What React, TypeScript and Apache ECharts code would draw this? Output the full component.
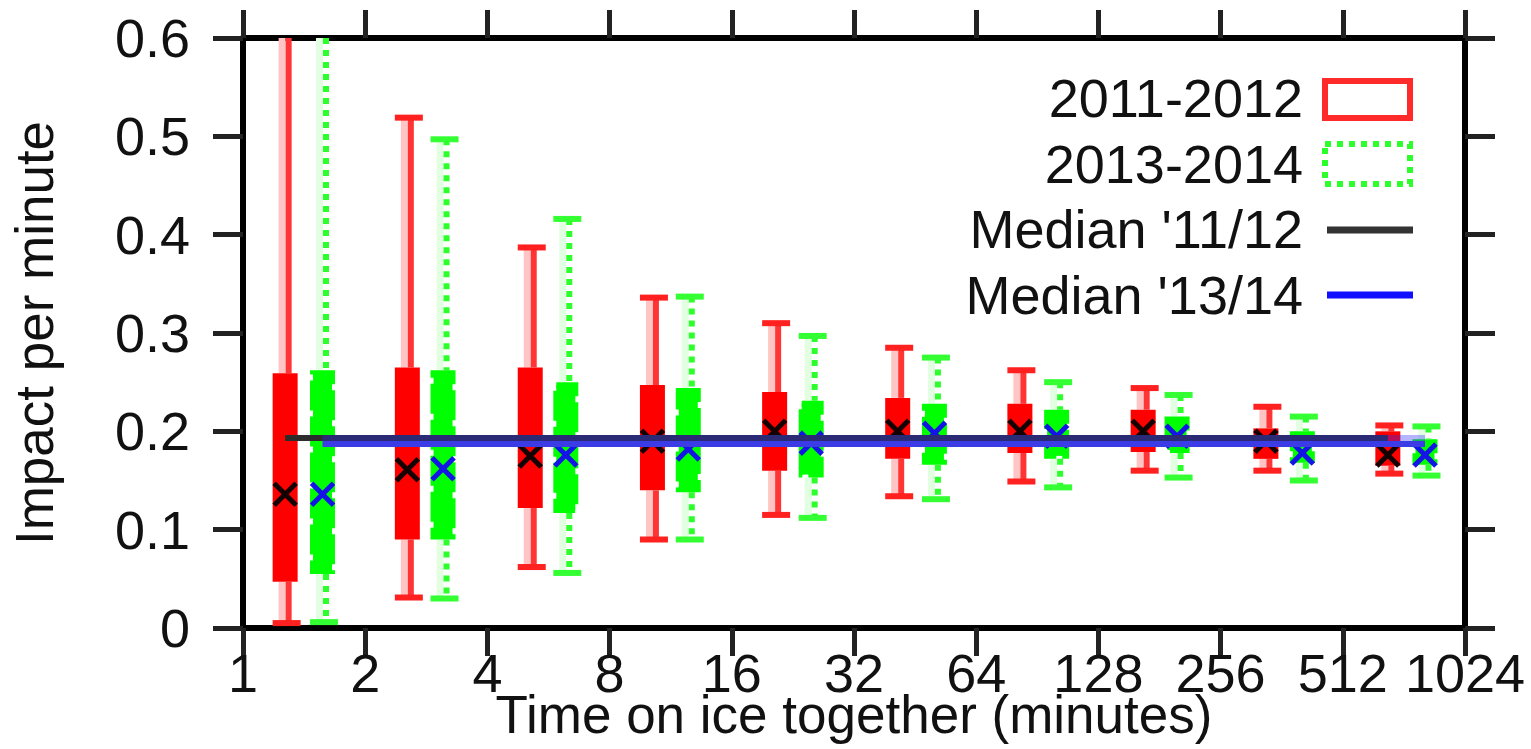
import React, { useEffect, useRef } from "react";
import * as echarts from "echarts";

// ---- data ----
const xTickLabels = ["1", "2", "4", "8", "16", "32", "64", "128", "256", "512", "1024"];
const legendLabels = ["2011-2012", "2013-2014", "Median '11/12", "Median '13/14"];

// 2011-2012
const redX = [1.27, 2.54, 5.1, 10.2, 20.4, 41, 82, 165, 331, 661];
const redWhiskerLow = [0.005, 0.031, 0.062, 0.09, 0.115, 0.134, 0.149, 0.16, 0.16, 0.157];
const redBoxLow = [0.047, 0.09, 0.122, 0.14, 0.16, 0.172, 0.178, 0.179, 0.172, 0.165];
const redBoxHigh = [0.259, 0.265, 0.265, 0.247, 0.24, 0.234, 0.228, 0.222, 0.203, 0.2];
const redWhiskerHigh = [0.65, 0.519, 0.387, 0.336, 0.31, 0.285, 0.262, 0.244, 0.225, 0.206];
const redMark = [0.136, 0.161, 0.175, 0.19, 0.2, 0.2, 0.2, 0.2, 0.19, 0.176];

// 2013-2014
const greenX = [1.57, 3.11, 6.24, 12.5, 25.1, 50.5, 101, 200, 407, 816];
const greenWhiskerLow = [0.006, 0.03, 0.056, 0.09, 0.112, 0.131, 0.143, 0.153, 0.15, 0.155];
const greenBoxLow = [0.055, 0.09, 0.117, 0.138, 0.153, 0.166, 0.172, 0.178, 0.168, 0.166];
const greenBoxHigh = [0.262, 0.262, 0.25, 0.244, 0.231, 0.228, 0.222, 0.215, 0.2, 0.192];
const greenWhiskerHigh = [0.64, 0.497, 0.416, 0.337, 0.297, 0.275, 0.25, 0.237, 0.215, 0.205];
const greenMark = [0.136, 0.162, 0.176, 0.182, 0.188, 0.198, 0.195, 0.195, 0.178, 0.176];

const median1112 = 0.1932;
const median1314 = 0.1871;

const FONT = '"Liberation Sans", Arial, Helvetica, sans-serif';
const TXT = "#111";

function buildData(xs: number[], wl: number[], bl: number[], bh: number[], wh: number[], mk: number[]) {
  return xs.map((x, i) => [Math.log2(x), wl[i], bl[i], bh[i], wh[i], mk[i]]);
}

function makeRender(kind: "red" | "green") {
  return (params: any, api: any) => {
    const xv = api.value(0);
    const pWL = api.coord([xv, api.value(1)]);
    const cx = pWL[0];
    const yWL = pWL[1];
    const yBL = api.coord([xv, api.value(2)])[1];
    const yBH = api.coord([xv, api.value(3)])[1];
    let yWH = api.coord([xv, api.value(4)])[1];
    const yM = api.coord([xv, api.value(5)])[1];
    const top = params.coordSys.y;
    const hasTopCap = yWH >= top;
    if (!hasTopCap) yWH = top;
    const hw = 12.5;
    const isRed = kind === "red";
    const halo = isRed ? "#ffc4c4" : "#e2ffe2";
    const main = isRed ? "#ff3434" : "#2cff2c";
    const dash = isRed ? undefined : [6, 6];
    const children: any[] = [];
    const seg = (y1: number, y2: number, dx: number, stroke: string, w: number, d?: number[]) => ({
      type: "line",
      shape: { x1: cx + dx, y1, x2: cx + dx, y2 },
      style: { stroke, lineWidth: w, lineDash: d },
    });
    children.push(seg(yWH, yBH, -3, halo, 7));
    children.push(seg(yBL, yWL, -3, halo, 7));
    children.push(seg(yWH, yBH, 3.5, main, 6, dash));
    children.push(seg(yBL, yWL, 3.5, main, 6, dash));
    const capColor = isRed ? "#ff2020" : "#33ff33";
    if (hasTopCap) {
      children.push({ type: "rect", shape: { x: cx - hw, y: yWH - 3, width: 28, height: 6 }, style: { fill: capColor } });
    }
    children.push({ type: "rect", shape: { x: cx - hw, y: yWL - 3, width: 28, height: 6 }, style: { fill: capColor } });
    if (isRed) {
      children.push({
        type: "rect",
        shape: { x: cx - hw, y: yBH, width: 2 * hw, height: yBL - yBH },
        style: { fill: "#ff0000" },
      });
    } else {
      children.push({
        type: "rect",
        shape: { x: cx - hw + 3, y: yBH + 3, width: 2 * hw - 6, height: yBL - yBH - 6 },
        style: { fill: "#00ff00", stroke: "#00ff00", lineWidth: 6, lineDash: [30, 6] },
      });
    }
    const mc = isRed ? "#140000" : "#1414e6";
    const s = 11;
    children.push({ type: "line", shape: { x1: cx - s, y1: yM - s, x2: cx + s, y2: yM + s }, style: { stroke: mc, lineWidth: 5 } });
    children.push({ type: "line", shape: { x1: cx - s, y1: yM + s, x2: cx + s, y2: yM - s }, style: { stroke: mc, lineWidth: 5 } });
    return { type: "group", children };
  };
}

function xAxisBase(pos: "bottom" | "top") {
  return {
    type: "value",
    position: pos,
    min: 0,
    max: 10,
    interval: 1,
    axisLine: { show: true, onZero: false, lineStyle: { color: "#000", width: 6 } },
    axisTick: { show: true, inside: false, length: 28, lineStyle: { color: "#222", width: 5 } },
    splitLine: { show: false },
  };
}

function yAxisBase(pos: "left" | "right") {
  return {
    type: "value",
    position: pos,
    min: 0,
    max: 0.6,
    interval: 0.1,
    axisLine: { show: true, onZero: false, lineStyle: { color: "#000", width: 6 } },
    axisTick: { show: true, inside: false, length: 30, lineStyle: { color: "#222", width: 5 } },
    splitLine: { show: false },
  };
}

export default function App() {
  const ref = useRef<HTMLDivElement>(null);
  useEffect(() => {
    if (!ref.current) return;
    const chart = echarts.init(ref.current, null, { renderer: "svg", width: 1531, height: 749 });
    const gx0 = Math.log2(greenX[0]);
    const gx1 = Math.log2(greenX[greenX.length - 1]);
    const rx0 = Math.log2(redX[0]);
    const rx1 = Math.log2(redX[redX.length - 1]);
    const option: any = {
      animation: false,
      backgroundColor: "#fff",
      textStyle: { fontFamily: FONT },
      grid: { left: 243, top: 38, width: 1222, height: 590, containLabel: false, outerBoundsMode: "none" },
      xAxis: [
        {
          ...xAxisBase("bottom"),
          axisLabel: {
            show: true,
            margin: 25,
            fontSize: 54,
            lineHeight: 40,
            color: TXT,
            fontFamily: FONT,
            formatter: (v: number) => xTickLabels[Math.round(v)] ?? "",
          },
          name: "Time on ice together (minutes)",
          nameLocation: "middle",
          nameGap: 66,
          nameMoveOverlap: false,
          nameTextStyle: { fontSize: 53, lineHeight: 40, color: TXT, fontFamily: FONT },
        },
        { ...xAxisBase("top"), axisLabel: { show: false } },
      ],
      yAxis: [
        {
          ...yAxisBase("left"),
          axisLabel: {
            show: true,
            margin: 53,
            fontSize: 54,
            color: TXT,
            fontFamily: FONT,
            formatter: (v: number) => (Math.abs(v) < 1e-9 ? "0" : v.toFixed(1)),
          },
          name: "Impact per minute",
          nameLocation: "middle",
          nameGap: 182,
          nameRotate: 90,
          nameMoveOverlap: false,
          nameTextStyle: { fontSize: 53, color: TXT, fontFamily: FONT },
        },
        { ...yAxisBase("right"), axisLabel: { show: false } },
      ],
      series: [
        {
          type: "custom",
          name: legendLabels[0],
          xAxisIndex: 0,
          yAxisIndex: 0,
          renderItem: makeRender("red"),
          encode: { x: 0, y: [1, 2, 3, 4, 5] },
          data: buildData(redX, redWhiskerLow, redBoxLow, redBoxHigh, redWhiskerHigh, redMark),
          z: 2,
        },
        {
          type: "custom",
          name: legendLabels[1],
          xAxisIndex: 0,
          yAxisIndex: 0,
          renderItem: makeRender("green"),
          encode: { x: 0, y: [1, 2, 3, 4, 5] },
          data: buildData(greenX, greenWhiskerLow, greenBoxLow, greenBoxHigh, greenWhiskerHigh, greenMark),
          z: 2,
        },
        {
          type: "line",
          name: legendLabels[2],
          symbol: "none",
          z: 3,
          lineStyle: { color: "#2c2c2c", width: 6 },
          data: [
            [rx0, median1112],
            [rx1, median1112],
          ],
        },
        {
          type: "line",
          name: legendLabels[3],
          symbol: "none",
          z: 4,
          lineStyle: { color: "#3c3ce6", width: 6 },
          data: [
            [gx0, median1314],
            [gx1, median1314],
          ],
        },
        {
          type: "line",
          symbol: "none",
          z: 5,
          silent: true,
          lineStyle: { color: "rgba(40,40,255,0.35)", width: 6 },
          data: [
            [gx0, median1112],
            [gx1, median1112],
          ],
        },
      ],
      graphic: [
        {
          type: "text",
          style: { text: legendLabels[0], x: 1303, y: 98, align: "right", verticalAlign: "middle", fill: TXT, font: `54px ${FONT}` },
        },
        {
          type: "text",
          style: { text: legendLabels[1], x: 1303, y: 164, align: "right", verticalAlign: "middle", fill: TXT, font: `54px ${FONT}` },
        },
        {
          type: "text",
          style: { text: legendLabels[2], x: 1303, y: 229, align: "right", verticalAlign: "middle", fill: TXT, font: `54px ${FONT}` },
        },
        {
          type: "text",
          style: { text: legendLabels[3], x: 1303, y: 295, align: "right", verticalAlign: "middle", fill: TXT, font: `54px ${FONT}` },
        },
        {
          type: "rect",
          shape: { x: 1325, y: 81, width: 85, height: 37 },
          style: { fill: "none", stroke: "#ff2a2a", lineWidth: 6 },
        },
        {
          type: "rect",
          shape: { x: 1325, y: 144, width: 85, height: 40 },
          style: { fill: "none", stroke: "#2cff2c", lineWidth: 6, lineDash: [6, 6] },
        },
        {
          type: "line",
          shape: { x1: 1327, y1: 230, x2: 1413, y2: 230 },
          style: { stroke: "#333", lineWidth: 7 },
        },
        {
          type: "line",
          shape: { x1: 1327, y1: 295, x2: 1413, y2: 295 },
          style: { stroke: "#1010ff", lineWidth: 7 },
        },
      ],
    };
    chart.setOption(option);
    return () => chart.dispose();
  }, []);
  return <div ref={ref} style={{ position: "fixed", left: 0, top: 0, width: 1531, height: 749, background: "#fff" }} />;
}
